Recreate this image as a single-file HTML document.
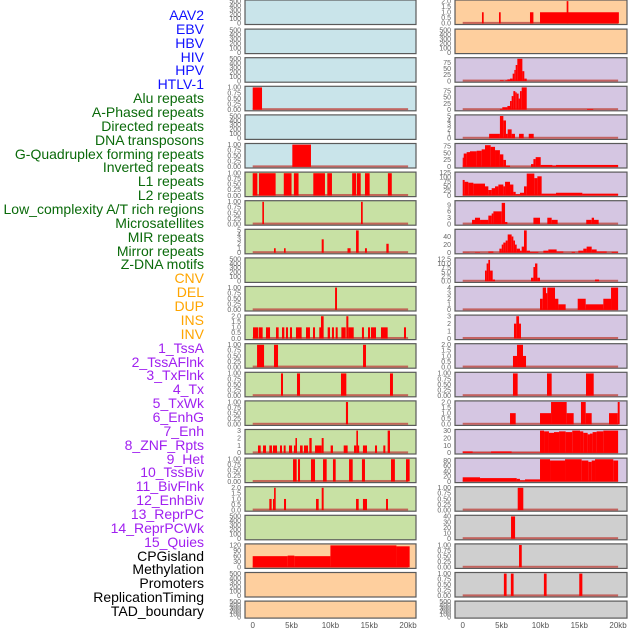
<!DOCTYPE html>
<html><head><meta charset="utf-8">
<style>
html,body{margin:0;padding:0;background:#fff;width:630px;height:630px;overflow:hidden}
#labels{position:absolute;left:0;top:0;width:204px;height:630px}
.lab{position:absolute;right:0;font:14px "Liberation Sans",sans-serif;white-space:nowrap;line-height:14px}
svg{position:absolute;left:0;top:0}
</style></head><body>
<div id="labels"></div>
<svg id="chart" width="630" height="630"></svg>
<script>
const labelNames = ["AAV2","EBV","HBV","HIV","HPV","HTLV-1","Alu repeats","A-Phased repeats","Directed repeats","DNA transposons","G-Quadruplex forming repeats","Inverted repeats","L1 repeats","L2 repeats","Low_complexity A/T rich regions","Microsatellites","MIR repeats","Mirror repeats","Z-DNA motifs","CNV","DEL","DUP","INS","INV","1_TssA","2_TssAFlnk","3_TxFlnk","4_Tx","5_TxWk","6_EnhG","7_Enh","8_ZNF_Rpts","9_Het","10_TssBiv","11_BivFlnk","12_EnhBiv","13_ReprPC","14_ReprPCWk","15_Quies","CPGisland","Methylation","Promoters","ReplicationTiming","TAD_boundary"];
const labelColors = ["#1010ff","#1010ff","#1010ff","#1010ff","#1010ff","#1010ff","#0a6a0a","#0a6a0a","#0a6a0a","#0a6a0a","#0a6a0a","#0a6a0a","#0a6a0a","#0a6a0a","#0a6a0a","#0a6a0a","#0a6a0a","#0a6a0a","#0a6a0a","#ffa500","#ffa500","#ffa500","#ffa500","#ffa500","#a020f0","#a020f0","#a020f0","#a020f0","#a020f0","#a020f0","#a020f0","#a020f0","#a020f0","#a020f0","#a020f0","#a020f0","#a020f0","#a020f0","#a020f0","#000","#000","#000","#000","#000"];
const xTickLabels = ["0","5kb","10kb","15kb","20kb"];
const xTickValues = [0,5,10,15,20];

const E = ["0","100","200","300","400","500"];
const P1 = ["0.00","0.25","0.50","0.75","1.00"];
const P2 = ["0.0","0.5","1.0","1.5","2.0"];

const leftBg = ["#c9e4ea","#c9e4ea","#c9e4ea","#c9e4ea","#c9e4ea","#c9e4ea","#c8e1a4","#c8e1a4","#c8e1a4","#c8e1a4","#c8e1a4","#c8e1a4","#c8e1a4","#c8e1a4","#c8e1a4","#c8e1a4","#c8e1a4","#c8e1a4","#c8e1a4","#fecf9e","#fecf9e","#fecf9e"];
const rightBg = ["#fecf9e","#fecf9e","#d5c6e2","#d5c6e2","#d5c6e2","#d5c6e2","#d5c6e2","#d5c6e2","#d5c6e2","#d5c6e2","#d5c6e2","#d5c6e2","#d5c6e2","#d5c6e2","#d5c6e2","#d5c6e2","#d5c6e2","#cfcfcf","#cfcfcf","#cfcfcf","#cfcfcf","#cfcfcf"];

const leftMax = [500,500,500,1,500,1,1,1,5,500,1,2,1,1,1,3,1,2,500,120,500,500];
const leftTicks = [E,E,E,P1,E,P1,P1,P1,["0","1","2","3","4","5"],E,P1,P2,P1,P1,P1,["0","1","2","3"],P1,P2,E,["0","30","60","90","120"],E,E];
const rightMax = [2,500,90,90,5,80,122,10.5,55,12.5,4,3,2,1,2,30,85,1,40,1,1,500];
const rightTicks = [P2,E,["0","25","50","75"],["0","25","50","75"],["0","1","2","3","4","5"],["0","25","50","75"],["0","25","50","75","100","125"],["0","3","6","9"],["0","20","40"],["0.0","2.5","5.0","7.5","10.0","12.5"],["0","1","2","3","4"],["0","1","2","3"],P2,P1,P2,["0","10","20","30"],["0","20","40","60","80"],P1,["0","10","20","30","40"],P1,P1,E];

const L01=[],L02=[],L03=[],L05=[],L10=[],L19=[],L21=[],L22=[];
const L04=[[0,1.2,1]];
const L06=[[5.1,7.5,1]];
const L07=[[0,0.6,1],[0.8,2.95,1],[4.0,5.0,1],[5.3,5.9,1],[7.8,9.3,1],[9.6,10.2,1],[12.8,13.3,1],[13.4,13.9,1],[14.45,15.05,1],[17.4,17.9,1]];
const L08=[[1.24,1.45,1],[13.94,14.16,1]];
const L09=[[2.74,2.96,1],[4.03,4.24,1],[8.88,9.14,3],[12.2,12.6,1],[13.3,13.64,5],[14.45,14.7,1],[17.2,17.5,2]];
const L11=[[10.6,10.85,1]];
const L12=[[0.04,0.73,1],[0.81,1.28,1],[1.71,2.23,1],[3.0,3.34,1],[3.77,4.07,1],[4.28,4.54,1],[4.8,5.06,1],[5.57,6.3,1],[6.86,7.37,1],[7.76,8.02,1],[8.57,8.79,1],[8.79,9.13,2],[9.65,9.95,1],[10.2,10.46,1],[10.68,10.94,1],[11.41,11.97,1],[12.05,12.31,2],[12.31,13.0,1],[14.06,14.32,1],[14.84,15.1,1],[15.22,15.87,1],[16.51,17.37,1],[19.47,19.73,1]];
const L13=[[0.56,1.46,1],[2.74,3.26,1],[14.2,14.58,1]];
const L14=[[3.64,3.9,1],[5.7,6.09,1],[11.36,12.05,1],[17.67,18.05,1]];
const L15=[[12.0,12.27,1]];
const L16=[[0.68,1.03,1],[1.33,1.71,1],[2.14,2.48,1],[2.61,3.13,1],[3.51,3.77,1],[3.99,4.24,1],[4.67,5.06,1],[5.31,5.5,1],[5.5,5.7,2],[6.09,6.43,1],[6.6,7.12,1],[7.29,7.59,2],[8.02,8.88,1],[8.88,9.13,2],[10.03,10.33,1],[11.71,12.22,1],[13.04,13.34,1],[13.34,13.55,3],[13.55,13.64,1],[14.19,14.71,1],[15.74,16.0,1],[16.81,17.07,1],[17.37,17.67,3]];
const L17=[[5.19,5.66,1],[5.83,6.09,1],[7.5,8.02,1],[9.05,9.52,1],[10.33,10.68,1],[12.4,12.87,1],[14.06,14.45,1],[17.8,18.3,1],[19.73,20.2,1]];
const L18=[[2.14,2.44,1],[2.61,2.75,1],[2.75,2.96,2],[4.03,4.29,1],[8.15,8.49,1],[8.88,9.13,2],[13.3,13.64,1],[14.19,14.71,1],[17.16,17.41,1]];
const L20=[[0,4.5,60],[4.5,5.36,63],[5.36,10,60],[10,18.5,118],[18.5,20.2,113]];

const R02=[],R22=[];
const R01=[[2.48,2.7,1],[4.67,4.89,1],[8.66,9.1,1],[9.95,20.1,1],[13.38,13.6,2]];
const R03=[[4.79,5.27,3],[5.49,5.75,3],[5.75,6.09,7],[6.09,6.43,10],[6.43,6.65,30],[6.65,6.82,45],[6.82,7.03,65],[7.03,7.68,90],[7.68,7.93,40],[7.93,8.24,10]];
const R04=[[4.79,5.1,3],[5.1,5.75,10],[5.75,6.09,15],[6.09,6.3,35],[6.3,6.52,55],[6.52,6.77,75],[6.77,6.95,70],[6.95,7.2,65],[7.2,7.37,45],[7.37,7.59,75],[7.59,8.24,90],[16.0,16.8,3]];
const R05=[[3.4,4.79,1],[4.79,5.23,5],[5.23,5.57,4],[5.57,5.79,1],[5.79,6.3,2],[6.3,6.73,1],[7.25,7.85,1],[8.5,9.14,1]];
const R06=[[0,0.13,33],[0.13,0.51,48],[0.51,0.94,53],[0.94,1.8,56],[1.8,2.44,58],[2.44,2.87,63],[2.87,3.6,78],[3.6,4.16,72],[4.16,4.79,60],[4.79,5.23,45],[5.23,5.57,25],[5.57,6.09,5],[8.79,9.1,10],[9.1,9.39,28],[9.39,10.04,35],[10.04,11.54,7],[11.54,12.01,5],[12.01,20,7]];
const R07=[[0,0.25,85],[0.25,0.72,75],[0.72,1.37,70],[1.37,2.87,65],[2.87,3.3,50],[3.3,3.73,30],[3.73,4.16,40],[4.16,4.59,50],[4.59,5.23,60],[5.23,5.45,50],[5.45,6.09,75],[6.09,6.52,60],[6.52,6.82,20],[6.82,7.37,7],[7.37,7.89,15],[7.89,8.24,50],[8.24,9.22,120],[9.22,9.61,95],[9.61,10.16,105],[10.16,12.01,10],[12.01,15.4,15],[15.4,20,10]];
const R08=[[1.2,1.58,2],[1.58,2.23,3],[2.23,3.3,2],[3.3,3.73,4],[3.73,3.95,5],[3.95,5.02,6],[5.02,5.45,10],[5.45,5.75,1],[9.1,9.95,3],[10.89,11.45,3],[11.45,12.22,2],[15.9,16.6,2],[16.6,16.9,3],[16.9,17.5,2]];
const R09=[[0,0.86,0.5],[1.58,2.23,1],[3.3,3.95,3],[4.72,5.02,10],[5.02,5.23,20],[5.23,5.53,25],[5.53,5.79,30],[5.79,6.3,45],[6.3,6.52,40],[6.52,6.73,30],[6.73,6.95,20],[6.95,7.37,10],[7.37,7.59,5],[7.59,7.89,15],[7.89,8.24,55],[8.24,8.66,5],[8.66,9.74,2],[10.38,11.02,5],[11.02,12.09,8],[12.09,12.95,3],[14.02,14.45,2],[14.88,15.52,5],[15.52,15.95,10],[15.95,16.6,15],[16.6,17.24,8],[17.24,18.53,3],[19.17,20,2]];
const R10=[[2.87,3.08,6],[3.08,3.3,10],[3.3,3.52,12],[3.52,3.86,6],[3.86,4.16,1],[8.79,9.1,2],[9.1,9.31,8],[9.31,9.61,10],[9.61,9.95,2],[17.03,17.55,1]];
const R11=[[9.95,10.3,2],[10.3,10.72,4],[10.72,10.89,3],[10.89,11.88,4],[11.88,12.31,2],[12.31,13.25,1],[14.8,15.83,2],[15.83,18.1,1],[18.1,19.09,2],[19.09,20,4]];
const R12=[[6.6,6.9,2],[6.9,7.25,3],[7.25,7.5,2]];
const R13=[[6.47,6.99,1],[6.99,7.76,2],[7.76,8.15,1]];
const R14=[[6.47,7.07,1],[10.85,11.45,1],[15.87,16.86,1]];
const R15=[[6.09,6.82,1],[9.95,11.37,1],[11.37,13.38,2],[13.38,14.28,1],[15.22,15.83,2],[15.83,16.6,1],[18.83,19.95,1],[19.95,20.2,2]];
const R16=[[0,1.28,2],[1.28,3.65,0.5],[3.65,6.3,2],[6.3,9.95,0.5],[9.95,10.47,30],[10.47,11.1,29],[11.1,11.75,27],[11.75,12.4,28],[12.4,13.25,29],[13.25,14.1,28],[14.1,15.1,30],[15.1,15.52,29],[15.52,16.08,27],[16.08,16.38,25],[16.38,16.72,26],[16.72,17.24,28],[17.24,18.1,29],[18.1,20,30]];
const R17=[[0,2.23,16],[2.23,6.95,13],[6.95,7.37,10],[7.37,8.02,4],[8.02,9.95,8],[9.95,11.24,85],[11.24,13.17,80],[13.17,15.31,85],[15.31,16.17,80],[16.17,16.6,75],[16.6,17.03,80],[17.03,19.38,85],[19.38,20,80]];
const R18=[[7.08,7.8,1]];
const R19=[[6.22,6.74,40]];
const R20=[[7.25,7.6,1]];
const R21=[[5.3,5.65,1],[6.2,6.55,1],[10.45,10.8,1],[15.0,15.4,1]];

const leftSegs=[L01,L02,L03,L04,L05,L06,L07,L08,L09,L10,L11,L12,L13,L14,L15,L16,L17,L18,L19,L20,L21,L22];
const rightSegs=[R01,R02,R03,R04,R05,R06,R07,R08,R09,R10,R11,R12,R13,R14,R15,R16,R17,R18,R19,R20,R21,R22];

const NS="http://www.w3.org/2000/svg";
const svg=document.getElementById('chart');
function mk(tag,attrs){const e=document.createElementNS(NS,tag);for(const k in attrs)e.setAttribute(k,attrs[k]);return e;}

// labels
const labDiv=document.getElementById('labels');
labelNames.forEach((n,i)=>{
  const d=document.createElement('div');
  d.className='lab';
  
  
  d.style.top=(15+i*13.86-7)+'px';
  d.style.color=labelColors[i];
  d.textContent=n;
  labDiv.appendChild(d);
});

const cols=[{x0:245,x1:416,z:252.7,bg:leftBg,max:leftMax,ticks:leftTicks,segs:leftSegs,side:'left'},
            {x0:455,x1:627,z:462.7,bg:rightBg,max:rightMax,ticks:rightTicks,segs:rightSegs,side:'right'}];
const PXKB=7.77;
cols.forEach(c=>{
  const xs=v=>c.z+v*PXKB;
  for(let r=0;r<22;r++){
    const top=r===0?0:0.5+28.6*r;
    const h=r===21?17:(r===0?24.5:24.5);
    const g=mk('g',{});
    
    
    svg.appendChild(g);
    const bg=mk('rect',{x:c.x0,y:top,width:c.x1-c.x0,height:h,fill:c.bg[r],stroke:'#5a5a5a','stroke-width':1.2});
    
    
    g.appendChild(bg);
    const mx=c.max[r];
    const lo=-0.05*mx, hi=1.05*mx;
    const ys=v=>top+h-(v-lo)/(hi-lo)*h;
    const segs=c.segs[r];
    if(segs.length){
      const base=mk('rect',{x:xs(0),y:ys(0)-1.5,width:xs(20)-xs(0),height:2,fill:'#c0504a',opacity:0.85});
      
      
      g.appendChild(base);
    }
    segs.forEach(s=>{
      const y1=ys(s[2]),y0=ys(0);
      const b=mk('rect',{x:xs(s[0]),y:y1,width:Math.max(1.2,xs(s[1])-xs(s[0])),height:y0-y1,fill:'#ff0000'});
      
      
      g.appendChild(b);
    });
    c.ticks[r].forEach(t=>{
      const v=parseFloat(t);
      const tx=mk('text',{x:c.x0-4,y:ys(v)+2.3,'text-anchor':'end','font-size':'7','font-family':'Liberation Sans, sans-serif',fill:'#666'});
      
      
      tx.textContent=t;
      g.appendChild(tx);
    });
  }
  xTickValues.forEach((v,i)=>{
    const tx=mk('text',{x:xs(v),y:628,'text-anchor':'middle','font-size':'8','font-family':'Liberation Sans, sans-serif',fill:'#555'});
    
    
    tx.textContent=xTickLabels[i];
    svg.appendChild(tx);
  });
});
</script>
</body></html>
